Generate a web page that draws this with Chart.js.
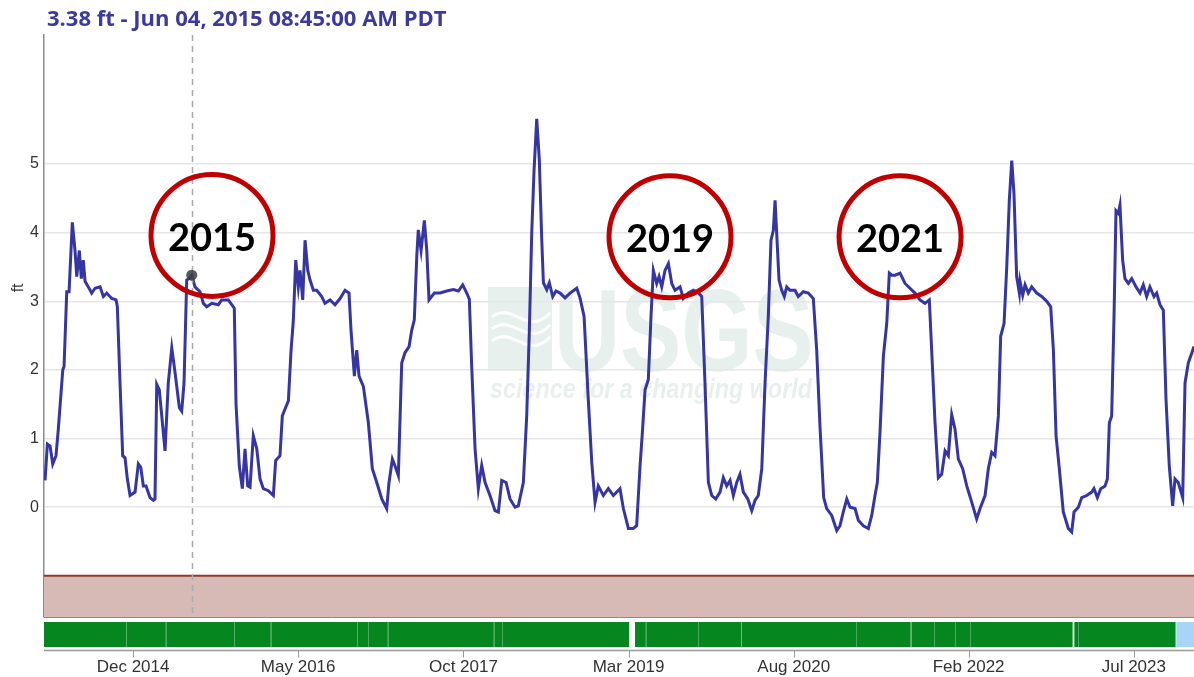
<!DOCTYPE html>
<html>
<head>
<meta charset="utf-8">
<script src="https://cdn.jsdelivr.net/npm/chart.js@4.4.1/dist/chart.umd.min.js"></script>
<style>
  html, body { margin: 0; padding: 0; background: #fff; overflow: hidden; }
  #wrap { position: relative; width: 1194px; height: 677px; }
</style>
</head>
<body>
<div id="wrap"><canvas id="gage" width="1194" height="677"></canvas></div>
<script>
// --- data (decimal years / feet) ---
const gageYears = [
  2014.162, 2014.182, 2014.205, 2014.228, 2014.256, 2014.276, 2014.314, 2014.325, 2014.348, 2014.368,
  2014.396, 2014.419, 2014.434, 2014.456, 2014.473, 2014.490, 2014.505, 2014.533, 2014.562, 2014.591,
  2014.634, 2014.662, 2014.691, 2014.734, 2014.771, 2014.782, 2014.805, 2014.828, 2014.848, 2014.868,
  2014.891, 2014.934, 2014.962, 2014.983, 2015.005, 2015.028, 2015.062, 2015.091, 2015.105, 2015.120,
  2015.142, 2015.191, 2015.219, 2015.249, 2015.277, 2015.314, 2015.334, 2015.354, 2015.377, 2015.397,
  2015.420, 2015.448, 2015.491, 2015.520, 2015.549, 2015.592, 2015.648, 2015.677, 2015.734, 2015.763,
  2015.785, 2015.800, 2015.828, 2015.854, 2015.877, 2015.900, 2015.920, 2015.948, 2015.978, 2016.006,
  2016.034, 2016.077, 2016.120, 2016.140, 2016.177, 2016.197, 2016.220, 2016.249, 2016.272, 2016.291,
  2016.312, 2016.334, 2016.349, 2016.372, 2016.392, 2016.415, 2016.435, 2016.463, 2016.492, 2016.535,
  2016.563, 2016.606, 2016.649, 2016.692, 2016.735, 2016.769, 2016.786, 2016.815, 2016.835, 2016.855,
  2016.892, 2016.935, 2016.969, 2017.007, 2017.050, 2017.092, 2017.112, 2017.141, 2017.164, 2017.192,
  2017.221, 2017.249, 2017.284, 2017.307, 2017.329, 2017.350, 2017.363, 2017.387, 2017.415, 2017.436,
  2017.455, 2017.501, 2017.550, 2017.607, 2017.664, 2017.707, 2017.744, 2017.779, 2017.801, 2017.821,
  2017.850, 2017.878, 2017.907, 2017.936, 2017.978, 2018.021, 2018.050, 2018.079, 2018.116, 2018.150,
  2018.193, 2018.221, 2018.264, 2018.293, 2018.315, 2018.336, 2018.356, 2018.379, 2018.401, 2018.422,
  2018.436, 2018.465, 2018.487, 2018.516, 2018.544, 2018.579, 2018.622, 2018.665, 2018.722, 2018.750,
  2018.785, 2018.821, 2018.851, 2018.879, 2018.907, 2018.950, 2018.993, 2019.036, 2019.093, 2019.122,
  2019.165, 2019.207, 2019.236, 2019.265, 2019.285, 2019.308, 2019.336, 2019.359, 2019.379, 2019.408,
  2019.428, 2019.451, 2019.479, 2019.508, 2019.537, 2019.565, 2019.608, 2019.636, 2019.679, 2019.722,
  2019.765, 2019.794, 2019.822, 2019.851, 2019.880, 2019.914, 2019.951, 2019.979, 2020.008, 2020.037,
  2020.065, 2020.094, 2020.122, 2020.151, 2020.189, 2020.223, 2020.251, 2020.279, 2020.309, 2020.337,
  2020.365, 2020.388, 2020.408, 2020.423, 2020.437, 2020.457, 2020.480, 2020.502, 2020.523, 2020.551,
  2020.594, 2020.622, 2020.665, 2020.708, 2020.751, 2020.780, 2020.809, 2020.840, 2020.866, 2020.909,
  2020.952, 2020.980, 2021.008, 2021.038, 2021.066, 2021.109, 2021.137, 2021.180, 2021.223, 2021.252,
  2021.280, 2021.300, 2021.323, 2021.352, 2021.381, 2021.403, 2021.424, 2021.452, 2021.495, 2021.538,
  2021.580, 2021.623, 2021.666, 2021.709, 2021.746, 2021.766, 2021.795, 2021.823, 2021.852, 2021.881,
  2021.909, 2021.938, 2021.966, 2021.995, 2022.032, 2022.067, 2022.110, 2022.152, 2022.181, 2022.224,
  2022.252, 2022.281, 2022.309, 2022.338, 2022.358, 2022.387, 2022.410, 2022.432, 2022.453, 2022.472,
  2022.495, 2022.518, 2022.524, 2022.547, 2022.567, 2022.595, 2022.624, 2022.667, 2022.710, 2022.753,
  2022.787, 2022.810, 2022.833, 2022.861, 2022.895, 2022.938, 2022.967, 2022.987, 2023.024, 2023.053,
  2023.096, 2023.139, 2023.158, 2023.187, 2023.216, 2023.253, 2023.273, 2023.290, 2023.310, 2023.330,
  2023.347, 2023.367, 2023.381, 2023.404, 2023.424, 2023.453, 2023.482, 2023.519, 2023.553, 2023.581,
  2023.610, 2023.638, 2023.673, 2023.696, 2023.724, 2023.753, 2023.776, 2023.804, 2023.833, 2023.853,
  2023.881, 2023.919, 2023.939, 2023.967, 2024.016
];
const gageFt = [
  0.39, 0.92, 0.89, 0.63, 0.75, 1.14, 2.00, 2.05, 3.14, 3.14,
  4.15, 3.74, 3.36, 3.74, 3.33, 3.60, 3.29, 3.21, 3.12, 3.19,
  3.21, 3.07, 3.12, 3.04, 3.02, 2.92, 1.81, 0.75, 0.72, 0.41,
  0.17, 0.22, 0.63, 0.58, 0.31, 0.31, 0.14, 0.10, 0.12, 1.79,
  1.71, 0.82, 1.81, 2.32, 1.96, 1.45, 1.40, 1.81, 3.31, 3.33,
  3.38, 3.21, 3.14, 2.97, 2.92, 2.97, 2.95, 3.02, 3.02, 2.95,
  2.90, 1.50, 0.60, 0.27, 0.85, 0.31, 0.29, 1.04, 0.85, 0.41,
  0.27, 0.24, 0.17, 0.68, 0.75, 1.33, 1.43, 1.55, 2.29, 2.71,
  3.60, 3.21, 3.45, 3.02, 3.89, 3.45, 3.31, 3.16, 3.16, 3.07,
  2.97, 3.02, 2.95, 3.04, 3.16, 3.12, 2.58, 1.91, 2.29, 1.91,
  1.76, 1.23, 0.56, 0.36, 0.12, -0.02, 0.36, 0.70, 0.60, 0.46,
  2.10, 2.25, 2.34, 2.58, 2.73, 3.65, 4.04, 3.74, 4.18, 3.74,
  3.02, 3.12, 3.12, 3.15, 3.17, 3.15, 3.24, 3.12, 3.03, 2.06,
  0.85, 0.27, 0.61, 0.36, 0.17, -0.05, -0.07, 0.39, 0.36, 0.12,
  0.00, 0.02, 0.36, 1.33, 2.54, 3.99, 4.91, 5.66, 5.06, 3.90,
  3.27, 3.17, 3.27, 3.07, 3.15, 3.12, 3.05, 3.12, 3.19, 3.05,
  2.78, 1.57, 0.65, 0.07, 0.31, 0.17, 0.27, 0.17, 0.27, -0.02,
  -0.31, -0.31, -0.27, 0.60, 1.09, 1.71, 1.86, 2.78, 3.45, 3.26,
  3.36, 3.21, 3.45, 3.55, 3.26, 3.16, 3.21, 3.04, 3.12, 3.16,
  3.12, 3.07, 1.81, 0.36, 0.17, 0.12, 0.22, 0.43, 0.31, 0.39,
  0.17, 0.36, 0.48, 0.22, 0.12, -0.05, 0.10, 0.17, 0.56, 1.81,
  2.78, 3.89, 4.03, 4.47, 3.99, 3.31, 3.16, 3.07, 3.21, 3.16,
  3.16, 3.07, 3.14, 3.12, 3.04, 2.29, 1.15, 0.14, -0.02, -0.12,
  -0.34, -0.27, -0.07, 0.12, 0.00, -0.02, -0.19, -0.27, -0.31, -0.12,
  0.17, 0.36, 1.09, 2.20, 2.68, 3.41, 3.38, 3.38, 3.41, 3.26,
  3.19, 3.12, 3.02, 2.97, 3.02, 2.29, 1.23, 0.43, 0.48, 0.82,
  0.75, 1.35, 1.14, 0.70, 0.56, 0.31, 0.07, -0.17, -0.02, 0.17,
  0.56, 0.80, 0.75, 1.33, 2.49, 2.68, 3.50, 4.47, 5.05, 4.57,
  3.36, 3.12, 3.29, 3.09, 3.24, 3.12, 3.21, 3.12, 3.07, 3.00,
  2.92, 2.29, 1.04, 0.56, -0.07, -0.31, -0.36, -0.07, 0.00, 0.14,
  0.17, 0.22, 0.27, 0.14, 0.27, 0.31, 0.41, 1.23, 1.33, 2.78,
  4.32, 4.28, 4.40, 3.60, 3.33, 3.26, 3.33, 3.21, 3.12, 3.24,
  3.07, 3.21, 3.07, 3.12, 2.95, 2.87, 1.57, 0.60, 0.02, 0.41,
  0.36, 0.14, 1.81, 2.10, 2.34
];

// x axis labels
const tickYears = [2014.917, 2016.333, 2017.750, 2019.167, 2020.583, 2022.083, 2023.500];
const tickLabels = ['Dec 2014', 'May 2016', 'Oct 2017', 'Mar 2019', 'Aug 2020', 'Feb 2022', 'Jul 2023'];
const yTicks = [0, 1, 2, 3, 4, 5];

// 顯示範圍
const X_MIN = 2014.153, X_MAX = 2024.016;
const Y_MIN = -1.6, Y_MAX = 6.88;
const bandFt = -1.0;   // brown band top

// hover point
const hoverYear = 2015.420, hoverFt = 3.38;
const hoverText = '3.38 ft - Jun 04, 2015 08:45:00 AM PDT';

// approval strip
const approvalStart = [2014.153, 2014.857, 2015.197, 2015.783, 2016.097, 2016.838, 2016.932, 2017.101, 2018.010, 2018.081,
  2019.222, 2019.314, 2019.762, 2020.134, 2021.117, 2021.592, 2021.786, 2021.966, 2022.095, 2022.990, 2023.021, 2023.859];
const approvalEnd = [2014.857, 2015.197, 2015.783, 2016.097, 2016.838, 2016.932, 2017.101, 2018.010, 2018.081, 2019.172,
  2019.314, 2019.762, 2020.134, 2021.117, 2021.586, 2021.786, 2021.966, 2022.095, 2022.975, 2023.021, 2023.859, 2024.016];
const approvalCode = ['A','A','A','A','A','A','A','A','A','A','A','A','A','A','A','A','A','A','A','A','A','P'];

// annotations
const noteLabels = ['2015', '2019', '2021'];
const noteYears = [2015.594, 2019.522, 2021.495];
const noteFt = [3.96, 3.94, 3.94];

const points = gageYears.map((x, i) => ({ x, y: gageFt[i] }));

// --- plugins ---
const decorPlugin = {
  id: 'decor',
  beforeDraw(chart) {
    const { ctx, chartArea } = chart;
    // USGS watermark
    ctx.save();
    ctx.fillStyle = '#e8f0ed';
    const L = chartArea.left + 444, T = 287;
    ctx.fillRect(L, T, 64, 84);
    ctx.strokeStyle = '#ffffff';
    ctx.lineWidth = 3;
    for (let k = 0; k < 3; k++) {
      ctx.beginPath();
      ctx.moveTo(L + 4, T + 30 + k * 12);
      ctx.bezierCurveTo(L + 24, T + 14 + k * 12, L + 40, T + 50 + k * 12, L + 62, T + 26 + k * 12);
      ctx.stroke();
    }
    ctx.font = 'bold 116px "Liberation Sans"';
    ctx.textBaseline = 'alphabetic';
    ctx.translate(L + 66, T + 84);
    ctx.scale(0.79, 1);
    ctx.fillText('USGS', 0, 0);
    ctx.restore();
    ctx.save();
    ctx.fillStyle = '#e8f0ed';
    ctx.font = 'italic bold 27px "Liberation Sans"';
    ctx.fillText('science for a changing world', chartArea.left + 446, 398, 322);
    ctx.restore();
  },
  afterDatasetsDraw(chart) {
    const { ctx, chartArea, scales: { x, y } } = chart;
    // crosshair
    const hx = Math.round(x.getPixelForValue(hoverYear)) + 0.5;
    ctx.save();
    ctx.strokeStyle = '#ababab';
    ctx.lineWidth = 1.5;
    ctx.setLineDash([6, 5]);
    ctx.beginPath();
    ctx.moveTo(hx, chartArea.top);
    ctx.lineTo(hx, chartArea.bottom);
    ctx.stroke();
    ctx.setLineDash([]);
    // hover marker
    ctx.fillStyle = 'rgba(60,60,60,0.85)';
    ctx.beginPath();
    ctx.arc(x.getPixelForValue(hoverYear), y.getPixelForValue(hoverFt), 5.5, 0, Math.PI * 2);
    ctx.fill();
    // red circles
    noteLabels.forEach((t, i) => {
      const cx = x.getPixelForValue(noteYears[i]), cy = y.getPixelForValue(noteFt[i]);
      ctx.strokeStyle = '#c00000';
      ctx.lineWidth = 5;
      ctx.beginPath();
      ctx.arc(cx, cy, 61, 0, Math.PI * 2);
      ctx.stroke();
      ctx.fillStyle = '#000';
      ctx.font = 'bold 38px Lato';
      ctx.textAlign = 'center';
      ctx.textBaseline = 'middle';
      ctx.fillText(t, cx, cy + 3);
    });
    ctx.restore();
  },
  afterDraw(chart) {
    const { ctx, chartArea, scales: { x, y } } = chart;
    ctx.save();
    // title
    ctx.fillStyle = '#3b3b9d';
    ctx.font = 'bold 22px "Open Sans"';
    ctx.textBaseline = 'alphabetic';
    ctx.fillText(hoverText, 47, 26);
    // ft label
    ctx.translate(19, y.getPixelForValue(bandFt) / 2);
    ctx.rotate(-Math.PI / 2);
    ctx.fillStyle = '#333';
    ctx.font = '16px "Liberation Sans"';
    ctx.textAlign = 'center';
    ctx.textBaseline = 'middle';
    ctx.fillText('ft', 0, 0);
    ctx.restore();

    // approval strip
    ctx.save();
    const top = chartArea.bottom + 5, h = 25;
    approvalStart.forEach((s, i) => {
      const x0 = x.getPixelForValue(s), x1 = x.getPixelForValue(approvalEnd[i]);
      ctx.fillStyle = approvalCode[i] === 'A' ? '#06861f' : '#a8d4f8';
      ctx.fillRect(x0, top, x1 - x0, h);
      if (i > 0 && approvalStart[i] === approvalEnd[i - 1]) {
        ctx.fillStyle = 'rgba(255,255,255,0.28)';
        ctx.fillRect(Math.round(x0), top, 1, h);
      }
    });
    // navigator axis
    const ay = chartArea.bottom + 33.5;
    ctx.strokeStyle = '#999';
    ctx.lineWidth = 1.5;
    ctx.beginPath();
    ctx.moveTo(chartArea.left, ay);
    ctx.lineTo(chartArea.right, ay);
    ctx.stroke();
    ctx.lineWidth = 1;
    tickYears.forEach(t => {
      const tx = Math.round(x.getPixelForValue(t)) + 0.5;
      ctx.beginPath();
      ctx.moveTo(tx, ay);
      ctx.lineTo(tx, ay + 7);
      ctx.stroke();
    });
    ctx.restore();
  }
};

// --- chart ---
const ctx = document.getElementById('gage').getContext('2d');
new Chart(ctx, {
  type: 'line',
  data: {
    datasets: [
      {
        data: points,
        borderColor: '#3535a3',
        borderWidth: 3,
        pointRadius: 0,
        tension: 0,
        fill: false,
        order: 1
      },
      {
        data: [{ x: X_MIN, y: bandFt }, { x: X_MAX, y: bandFt }],
        borderColor: '#8b3a2b',
        borderWidth: 2,
        backgroundColor: '#d7bab5',
        pointRadius: 0,
        fill: 'start',
        order: 2
      }
    ]
  },
  options: {
    responsive: false,
    animation: false,
    events: [],
    layout: { padding: { top: 35, left: 0, right: 0, bottom: 0 } },
    scales: {
      x: {
        type: 'linear',
        min: X_MIN,
        max: X_MAX,
        afterBuildTicks: s => { s.ticks = tickYears.map(v => ({ value: v })); },
        afterFit: s => { s.height = 60; s.paddingLeft = 0; s.paddingRight = 0; },
        ticks: {
          callback: (v, i) => tickLabels[i],
          autoSkip: false,
          maxRotation: 0,
          padding: 40,
          color: '#333',
          font: { family: '"Liberation Sans"', size: 17 }
        },
        grid: { display: true, drawOnChartArea: false, drawTicks: false },
        border: { display: true, color: '#8a8a8a', width: 1 }
      },
      y: {
        min: Y_MIN,
        max: Y_MAX,
        afterBuildTicks: s => { s.ticks = yTicks.map(v => ({ value: v })); },
        afterFit: s => { s.width = 44; },
        ticks: { padding: 5, color: '#333', font: { family: '"Liberation Sans"', size: 16 } },
        grid: { color: '#e6e6e6', lineWidth: 1.5, drawTicks: false },
        border: { display: true, color: '#8c8c8c', width: 1.5 }
      }
    },
    plugins: { legend: { display: false }, tooltip: { enabled: false }, title: { display: false } }
  },
  plugins: [decorPlugin]
});
</script>
</body>
</html>
